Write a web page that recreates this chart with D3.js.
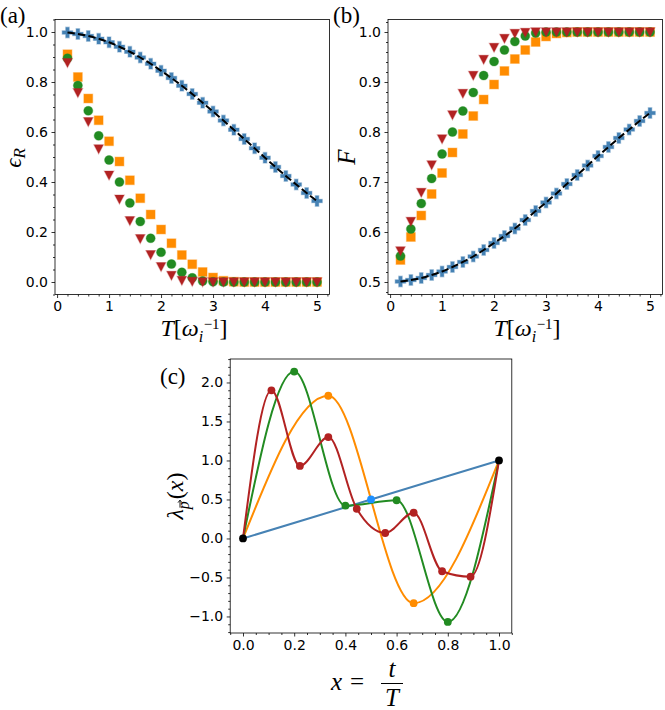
<!DOCTYPE html>
<html>
<head>
<meta charset="utf-8">
<script src="https://cdn.jsdelivr.net/npm/d3@7"></script>
<style>
body { margin: 0; background: #fff; }
svg text { font-family: "DejaVu Sans", sans-serif; fill: #000; }
.math { font-family: "Liberation Serif", "DejaVu Serif", serif; font-style: italic; }
.rm { font-family: "Liberation Serif", "DejaVu Serif", serif; font-style: normal; }
</style>
</head>
<body>
<div id="chart"></div>
<script>
// ---- data ----
const T = [0.2, 0.4, 0.6, 0.8, 1.0, 1.2, 1.4, 1.6, 1.8, 2.0, 2.2, 2.4, 2.6, 2.8, 3.0, 3.2, 3.4, 3.6, 3.8, 4.0, 4.2, 4.4, 4.6, 4.8, 5.0]

// panel (a): error
const errBlue   = [0.998, 0.992, 0.984, 0.973, 0.959, 0.941, 0.921, 0.898, 0.873, 0.845, 0.816, 0.785, 0.752, 0.717, 0.682, 0.646, 0.609, 0.572, 0.535, 0.497, 0.460, 0.424, 0.390, 0.356, 0.324]
const errOrange = [0.911, 0.820, 0.734, 0.647, 0.563, 0.482, 0.407, 0.335, 0.270, 0.210, 0.155, 0.108, 0.071, 0.040, 0.018, 0.005, 0.001, 0, 0, 0, 0, 0, 0, 0, 0]
const errGreen  = [0.895, 0.786, 0.685, 0.585, 0.488, 0.400, 0.316, 0.242, 0.175, 0.119, 0.072, 0.039, 0.017, 0.004, 0.001, 0, 0, 0, 0, 0, 0, 0, 0, 0, 0]
const errRed    = [0.877, 0.757, 0.641, 0.532, 0.427, 0.331, 0.245, 0.173, 0.109, 0.061, 0.026, 0.006, 0.002, 0, 0, 0, 0, 0, 0, 0, 0, 0, 0, 0, 0]

// panel (b): fidelity
const fidBlue   = [0.501, 0.504, 0.508, 0.514, 0.521, 0.530, 0.540, 0.551, 0.564, 0.578, 0.592, 0.607, 0.624, 0.642, 0.659, 0.677, 0.696, 0.714, 0.733, 0.752, 0.770, 0.788, 0.805, 0.822, 0.838]
const fidOrange = [0.544, 0.590, 0.633, 0.676, 0.718, 0.759, 0.796, 0.832, 0.865, 0.895, 0.922, 0.946, 0.964, 0.980, 0.991, 0.997, 0.999, 1, 1, 1, 1, 1, 1, 1, 1]
const fidGreen  = [0.552, 0.606, 0.657, 0.707, 0.756, 0.800, 0.842, 0.879, 0.913, 0.941, 0.964, 0.981, 0.992, 0.998, 1, 1, 1, 1, 1, 1, 1, 1, 1, 1, 1]
const fidRed    = [0.562, 0.621, 0.679, 0.734, 0.786, 0.834, 0.877, 0.913, 0.945, 0.969, 0.987, 0.997, 0.999, 1, 1, 1, 1, 1, 1, 1, 1, 1, 1, 1, 1]

// panel (c): control functions
const xBlue = [0, 0.5, 1]
const lamBlue = [0, 0.5, 1]
const xOrange = [0, 0.3333, 0.6667, 1]
const lamOrange = [0, 1.83, -0.83, 1]
const xGreen = [0, 0.2, 0.4, 0.6, 0.8, 1]
const lamGreen = [0, 2.14, 0.42, 0.49, -1.07, 1]
const xRed = [0, 0.1111, 0.2222, 0.3333, 0.4444, 0.5556, 0.6667, 0.7778, 0.8889, 1]
const lamRed = [0, 1.90, 0.93, 1.30, 0.38, 0.07, 0.33, -0.42, -0.49, 1]

// ticks
const ticksT = [0, 1, 2, 3, 4, 5]
const ticksErr = [0.0, 0.2, 0.4, 0.6, 0.8, 1.0]
const ticksFid = [0.5, 0.6, 0.7, 0.8, 0.9, 1.0]
const ticksX = [0.0, 0.2, 0.4, 0.6, 0.8, 1.0]
const ticksLam = [-1.0, -0.5, 0.0, 0.5, 1.0, 1.5, 2.0]

const colBlue = "#4682b4", colOrange = "#ff8c00", colGreen = "#228b22", colRed = "#b22222"

const width = 665, height = 710

const svg = d3.select("#chart").append("svg")
    .attr("width", width).attr("height", height)
    .attr("viewBox", "0 0 " + width + " " + height)

svg.append("rect").attr("width", width).attr("height", height).attr("fill", "#fff")

function panel(box, xDom, yDom, xTicks, yTicks, xMinor, yMinor, fmtX, fmtY)
{
    const x = d3.scaleLinear().domain(xDom).range([box[0], box[2]])
    const y = d3.scaleLinear().domain(yDom).range([box[3], box[1]])
    const g = svg.append("g")

    const minorX = d3.range(Math.ceil(xDom[0] / xMinor - 1e-9), Math.floor(xDom[1] / xMinor + 1e-9) + 1)
        .map(i => +(i * xMinor).toFixed(6)).filter(v => !xTicks.some(t => Math.abs(t - v) < 1e-6))
    const minorY = d3.range(Math.ceil(yDom[0] / yMinor - 1e-9), Math.floor(yDom[1] / yMinor + 1e-9) + 1)
        .map(i => +(i * yMinor).toFixed(6)).filter(v => !yTicks.some(t => Math.abs(t - v) < 1e-6))

    g.append("g").attr("transform", "translate(0," + box[3] + ")")
        .call(d3.axisBottom(x).tickValues(minorX).tickSize(2).tickFormat(""))
    g.append("g").attr("transform", "translate(" + box[0] + ",0)")
        .call(d3.axisLeft(y).tickValues(minorY).tickSize(2).tickFormat(""))
    g.append("g").attr("transform", "translate(0," + box[3] + ")")
        .call(d3.axisBottom(x).tickValues(xTicks).tickSize(3.5).tickPadding(3.5).tickFormat(fmtX))
    g.append("g").attr("transform", "translate(" + box[0] + ",0)")
        .call(d3.axisLeft(y).tickValues(yTicks).tickSize(3.5).tickPadding(3.5).tickFormat(fmtY))

    g.selectAll(".domain").remove()
    g.selectAll(".tick line").attr("stroke", "#000").attr("stroke-width", 0.8)
    g.selectAll(".tick text").style("font-family", "DejaVu Sans").style("font-size", "14px").attr("fill", "#000")

    g.append("rect").attr("x", box[0]).attr("y", box[1])
        .attr("width", box[2] - box[0]).attr("height", box[3] - box[1])
        .attr("fill", "none").attr("stroke", "#000").attr("stroke-width", 0.8)

    const plot = svg.append("g")
    return {x: x, y: y, g: plot}
}

// marker shapes
const plusPath = d3.symbol().type(d3.symbolCross).size(62)()
const squarePath = "M-4.4,-4.4H4.4V4.4H-4.4Z"
const circlePath = d3.symbol().type(d3.symbolCircle).size(64)()
const trianglePath = "M-4.7,-4.2L4.7,-4.2L0,4.7Z"

function scatter(p, xs, ys, path, color)
{
    p.g.append("g").selectAll("path").data(ys).join("path")
        .attr("d", path)
        .attr("transform", (d, i) => "translate(" + p.x(xs[i]) + "," + p.y(d) + ")")
        .attr("fill", color)
        .attr("stroke", color).attr("stroke-opacity", 0.35).attr("stroke-width", 1.2)
}

function dashed(p, xs, ys)
{
    p.g.append("path")
        .attr("d", d3.line().x((d, i) => p.x(xs[i])).y(d => p.y(d)).curve(d3.curveMonotoneX)(ys))
        .attr("fill", "none").attr("stroke", "#000").attr("stroke-width", 2)
        .attr("stroke-dasharray", "7.4,3.2")
}

const f1 = d3.format(".1f")
const fInt = d3.format("d")

// ---- (a) ----
const pa = panel([55, 19.5, 329.5, 294.5], [-0.04, 5.24], [-0.05, 1.05], ticksT, ticksErr, 0.2, 0.05, fInt, f1)
scatter(pa, T, errBlue, plusPath, colBlue)
dashed(pa, T, errBlue)
scatter(pa, T, errOrange, squarePath, colOrange)
scatter(pa, T, errGreen, circlePath, colGreen)
scatter(pa, T, errRed, trianglePath, colRed)

// ---- (b) ----
const pb = panel([388, 19.5, 662.5, 294.5], [-0.04, 5.24], [0.475, 1.025], ticksT, ticksFid, 0.2, 0.02, fInt, f1)
scatter(pb, T, fidBlue, plusPath, colBlue)
dashed(pb, T, fidBlue)
scatter(pb, T, fidOrange, squarePath, colOrange)
scatter(pb, T, fidGreen, circlePath, colGreen)
scatter(pb, T, fidRed, trianglePath, colRed)

// ---- (c) ----
const pc = panel([230.2, 359, 511.8, 633], [-0.05, 1.05], [-1.212, 2.301], ticksX, ticksLam, 0.05, 0.1, f1, f1)

function curve(xs, ys, color, w)
{
    pc.g.append("path")
        .attr("d", d3.line().x((d, i) => pc.x(xs[i])).y(d => pc.y(d)).curve(d3.curveMonotoneX)(ys))
        .attr("fill", "none").attr("stroke", color).attr("stroke-width", w)
}
function dots(xs, ys, color, idx)
{
    pc.g.append("g").selectAll("circle").data(idx).join("circle")
        .attr("cx", i => pc.x(xs[i])).attr("cy", i => pc.y(ys[i]))
        .attr("r", 3.9).attr("fill", color)
}

curve(xBlue, lamBlue, colBlue, 2)
curve(xOrange, lamOrange, colOrange, 2)
curve(xGreen, lamGreen, colGreen, 2)
curve(xRed, lamRed, colRed, 2)
dots(xOrange, lamOrange, colOrange, [1, 2])
dots(xGreen, lamGreen, colGreen, [1, 2, 3, 4])
dots(xRed, lamRed, colRed, [1, 2, 3, 4, 5, 6, 7, 8])
dots(xBlue, lamBlue, "#1e90ff", [1])
dots(xBlue, lamBlue, "#000", [0, 2])

// ---- labels ----
svg.append("text").attr("class", "rm").attr("x", 0).attr("y", 23).style("font-size", "23px").text("(a)")
svg.append("text").attr("class", "rm").attr("x", 333).attr("y", 23).style("font-size", "23px").text("(b)")
svg.append("text").attr("class", "rm").attr("x", 160).attr("y", 384).style("font-size", "23px").text("(c)")

function tLabel(cx)
{
    const t = svg.append("text").attr("class", "math").attr("x", cx).attr("y", 336)
        .attr("text-anchor", "middle").style("font-size", "24px")
    t.append("tspan").text("T")
    t.append("tspan").attr("class", "rm").text("[")
    t.append("tspan").text("ω")
    t.append("tspan").attr("dy", 6).style("font-size", "16px").text("i")
    t.append("tspan").attr("class", "rm").attr("dx", 0.5).attr("dy", -13).style("font-size", "15px").text("−1")
    t.append("tspan").attr("class", "rm").attr("dy", 7).text("]")
}
tLabel(194)
tLabel(527)

const ey = svg.append("text").attr("class", "math").attr("text-anchor", "middle")
    .attr("transform", "translate(21,158) rotate(-90)").style("font-size", "23px")
ey.append("tspan").text("ϵ")
ey.append("tspan").attr("dy", 4).style("font-size", "17px").text("R")

svg.append("text").attr("class", "math").attr("text-anchor", "middle")
    .attr("transform", "translate(355,157) rotate(-90)").style("font-size", "25px").text("F")

// lambda label: rotated group, arrow over p drawn as a path
const lg = svg.append("g").attr("transform", "translate(183,497) rotate(-90)")
const lt = lg.append("text").attr("class", "math").style("font-size", "24px")
lt.append("tspan").text("λ")
lt.append("tspan").attr("dy", 6).style("font-size", "16px").text("p")
lt.append("tspan").attr("class", "rm").attr("dx", 2).attr("dy", -6).text("(")
lt.append("tspan").text("x")
lt.append("tspan").attr("class", "rm").text(")")
const lw = lt.node().getComputedTextLength()
lt.attr("x", -lw / 2)
const pBox = lt.node().getExtentOfChar(1)
const ax0 = pBox.x + 1.5, ax1 = pBox.x + pBox.width + 1, ayA = -3
lg.append("path")
    .attr("d", "M" + ax0 + "," + ayA + "H" + ax1 + "M" + (ax1 - 2.5) + "," + (ayA - 2) + "L" + ax1 + "," + ayA + "L" + (ax1 - 2.5) + "," + (ayA + 2))
    .attr("fill", "none").attr("stroke", "#000").attr("stroke-width", 0.9)

// x = t / T
svg.append("text").attr("class", "math").attr("x", 331).attr("y", 690).style("font-size", "25px").text("x")
svg.append("text").attr("class", "rm").attr("x", 350).attr("y", 690).style("font-size", "25px").text("=")
svg.append("text").attr("class", "math").attr("x", 392).attr("y", 677).attr("text-anchor", "middle").style("font-size", "25px").text("t")
svg.append("line").attr("x1", 381).attr("x2", 403).attr("y1", 683.5).attr("y2", 683.5).attr("stroke", "#000").attr("stroke-width", 1)
svg.append("text").attr("class", "math").attr("x", 392).attr("y", 706).attr("text-anchor", "middle").style("font-size", "25px").text("T")
</script>
</body>
</html>
